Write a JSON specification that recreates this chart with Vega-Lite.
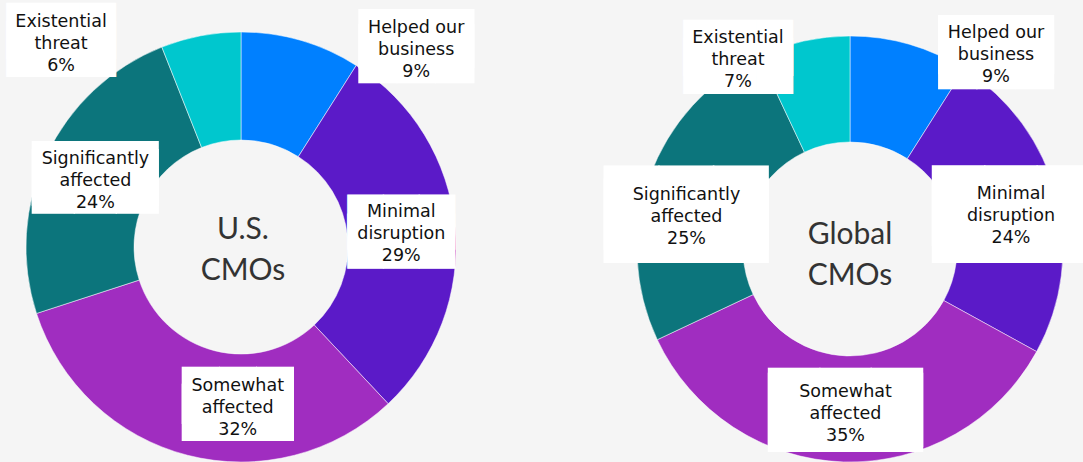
{
  "$schema": "https://vega.github.io/schema/vega-lite/v6.json",
  "background": "#f5f5f5",
  "padding": 0,
  "spacing": 0,
  "config": {"view": {"stroke": null}},
  "data": {"values": [
    {"region": "US", "cat": "Helped our business", "label": "Helped our\nbusiness\n9%", "value": 9, "rank": 1},
    {"region": "US", "cat": "Minimal disruption", "label": "Minimal\ndisruption\n29%", "value": 29, "rank": 2},
    {"region": "US", "cat": "Somewhat affected", "label": "Somewhat\naffected\n32%", "value": 32, "rank": 3},
    {"region": "US", "cat": "Significantly affected", "label": "Significantly\naffected\n24%", "value": 24, "rank": 4},
    {"region": "US", "cat": "Existential threat", "label": "Existential\nthreat\n6%", "value": 6, "rank": 5},
    {"region": "Global", "cat": "Helped our business", "label": "Helped our\nbusiness\n9%", "value": 9, "rank": 1},
    {"region": "Global", "cat": "Minimal disruption", "label": "Minimal\ndisruption\n24%", "value": 24, "rank": 2},
    {"region": "Global", "cat": "Somewhat affected", "label": "Somewhat\naffected\n35%", "value": 35, "rank": 3},
    {"region": "Global", "cat": "Significantly affected", "label": "Significantly\naffected\n25%", "value": 25, "rank": 4},
    {"region": "Global", "cat": "Existential threat", "label": "Existential\nthreat\n7%", "value": 7, "rank": 5}
  ]},
  "hconcat": [
    {
      "width": 482, "height": 462,
      "transform": [{"filter": "datum.region === 'US'"}],
      "layer": [
        {"mark": {"type": "arc", "innerRadius": 107, "radius": 215, "yOffset": 16, "stroke": "#ffffff", "strokeWidth": 0.5},
         "encoding": {
           "theta": {"field": "value", "type": "quantitative", "stack": true},
           "order": {"field": "rank", "type": "quantitative"},
           "color": {"field": "cat", "type": "nominal", "legend": null,
             "scale": {"domain": ["Helped our business", "Minimal disruption", "Somewhat affected", "Significantly affected", "Existential threat"],
                       "range": ["#0080ff", "#5b1ac8", "#a02dc0", "#0c757c", "#00c7ce"]}}}},
        {"mark": {"type": "text", "clip": true, "radius": 162, "dx": 130, "dy": -34.2, "font": "DejaVu Sans", "fontSize": 49.9, "lineHeight": 14.6, "lineBreak": "\n", "color": "#ffffff"},
         "encoding": {"theta": {"field": "value", "type": "quantitative", "stack": true}, "order": {"field": "rank", "type": "quantitative"},
           "text": {"condition": {"test": "datum.rank === 1", "value": "███\n███"}, "value": ""}}},
        {"mark": {"type": "text", "clip": true, "radius": 162, "dx": -1, "dy": 8.2, "font": "DejaVu Sans", "fontSize": 46.5, "lineHeight": 18.7, "lineBreak": "\n", "color": "#ffffff"},
         "encoding": {"theta": {"field": "value", "type": "quantitative", "stack": true}, "order": {"field": "rank", "type": "quantitative"},
           "text": {"condition": {"test": "datum.rank === 2", "value": "███\n███"}, "value": ""}}},
        {"mark": {"type": "text", "clip": true, "radius": 162, "dx": 37, "dy": 10.2, "font": "DejaVu Sans", "fontSize": 48.2, "lineHeight": 16.6, "lineBreak": "\n", "color": "#ffffff"},
         "encoding": {"theta": {"field": "value", "type": "quantitative", "stack": true}, "order": {"field": "rank", "type": "quantitative"},
           "text": {"condition": {"test": "datum.rank === 3", "value": "███\n███"}, "value": ""}}},
        {"mark": {"type": "text", "clip": true, "radius": 162, "dx": 1, "dy": 14.2, "font": "DejaVu Sans", "fontSize": 54.6, "lineHeight": 8, "lineBreak": "\n", "color": "#ffffff"},
         "encoding": {"theta": {"field": "value", "type": "quantitative", "stack": true}, "order": {"field": "rank", "type": "quantitative"},
           "text": {"condition": {"test": "datum.rank === 4", "value": "███\n███"}, "value": ""}}},
        {"mark": {"type": "text", "clip": true, "radius": 162, "dx": -149.6, "dy": -38.4, "font": "DejaVu Sans", "fontSize": 47.3, "lineHeight": 17.7, "lineBreak": "\n", "color": "#ffffff"},
         "encoding": {"theta": {"field": "value", "type": "quantitative", "stack": true}, "order": {"field": "rank", "type": "quantitative"},
           "text": {"condition": {"test": "datum.rank === 5", "value": "███\n███"}, "value": ""}}},
        {"mark": {"type": "text", "clip": true, "radius": 162, "dx": 130, "dy": -47.5, "font": "DejaVu Sans", "fontSize": 17.5, "lineHeight": 22, "lineBreak": "\n", "color": "#111111"},
         "encoding": {"theta": {"field": "value", "type": "quantitative", "stack": true}, "order": {"field": "rank", "type": "quantitative"},
           "text": {"condition": {"test": "datum.rank === 1", "field": "label"}, "value": ""}}},
        {"mark": {"type": "text", "clip": true, "radius": 162, "dx": -1, "dy": -3.5, "font": "DejaVu Sans", "fontSize": 17.5, "lineHeight": 22, "lineBreak": "\n", "color": "#111111"},
         "encoding": {"theta": {"field": "value", "type": "quantitative", "stack": true}, "order": {"field": "rank", "type": "quantitative"},
           "text": {"condition": {"test": "datum.rank === 2", "field": "label"}, "value": ""}}},
        {"mark": {"type": "text", "clip": true, "radius": 162, "dx": 37, "dy": -2.4, "font": "DejaVu Sans", "fontSize": 17.5, "lineHeight": 22, "lineBreak": "\n", "color": "#111111"},
         "encoding": {"theta": {"field": "value", "type": "quantitative", "stack": true}, "order": {"field": "rank", "type": "quantitative"},
           "text": {"condition": {"test": "datum.rank === 3", "field": "label"}, "value": ""}}},
        {"mark": {"type": "text", "clip": true, "radius": 162, "dx": 1, "dy": -3, "font": "DejaVu Sans", "fontSize": 17.5, "lineHeight": 22, "lineBreak": "\n", "color": "#111111"},
         "encoding": {"theta": {"field": "value", "type": "quantitative", "stack": true}, "order": {"field": "rank", "type": "quantitative"},
           "text": {"condition": {"test": "datum.rank === 4", "field": "label"}, "value": ""}}},
        {"mark": {"type": "text", "clip": true, "radius": 162, "dx": -149.6, "dy": -50, "font": "DejaVu Sans", "fontSize": 17.5, "lineHeight": 22, "lineBreak": "\n", "color": "#111111"},
         "encoding": {"theta": {"field": "value", "type": "quantitative", "stack": true}, "order": {"field": "rank", "type": "quantitative"},
           "text": {"condition": {"test": "datum.rank === 5", "field": "label"}, "value": ""}}},
        {"data": {"values": [{"center": "U.S.\nCMOs"}]},
         "mark": {"type": "text", "dx": 2, "dy": -1.5, "font": "Lato", "fontSize": 30, "lineHeight": 41, "lineBreak": "\n", "color": "#333333"},
         "encoding": {"text": {"field": "center", "type": "nominal"}}}
      ]
    },
    {
      "width": 601, "height": 462,
      "transform": [{"filter": "datum.region === 'Global'"}],
      "layer": [
        {"mark": {"type": "arc", "innerRadius": 107, "radius": 213, "xOffset": 67.5, "yOffset": 18, "stroke": "#ffffff", "strokeWidth": 0.5},
         "encoding": {
           "theta": {"field": "value", "type": "quantitative", "stack": true},
           "order": {"field": "rank", "type": "quantitative"},
           "color": {"field": "cat", "type": "nominal", "legend": null,
             "scale": {"domain": ["Helped our business", "Minimal disruption", "Somewhat affected", "Significantly affected", "Existential threat"],
                       "range": ["#0080ff", "#5b1ac8", "#a02dc0", "#0c757c", "#00c7ce"]}}}},
        {"mark": {"type": "text", "clip": true, "radius": 162, "dx": 168.3, "dy": -28.2, "font": "DejaVu Sans", "fontSize": 49.9, "lineHeight": 14.6, "lineBreak": "\n", "color": "#ffffff"},
         "encoding": {"theta": {"field": "value", "type": "quantitative", "stack": true}, "order": {"field": "rank", "type": "quantitative"},
           "text": {"condition": {"test": "datum.rank === 1", "value": "███\n███"}, "value": ""}}},
        {"mark": {"type": "text", "clip": true, "radius": 162, "dx": 71.6, "dy": 18.2, "font": "DejaVu Sans", "fontSize": 68, "lineHeight": 17.1, "lineBreak": "\n", "color": "#ffffff"},
         "encoding": {"theta": {"field": "value", "type": "quantitative", "stack": true}, "order": {"field": "rank", "type": "quantitative"},
           "text": {"condition": {"test": "datum.rank === 2", "value": "███\n███"}, "value": ""}}},
        {"mark": {"type": "text", "clip": true, "radius": 162, "dx": 68.1, "dy": 17.1, "font": "DejaVu Sans", "fontSize": 66.7, "lineHeight": 4.7, "lineBreak": "\n", "color": "#ffffff"},
         "encoding": {"theta": {"field": "value", "type": "quantitative", "stack": true}, "order": {"field": "rank", "type": "quantitative"},
           "text": {"condition": {"test": "datum.rank === 3", "value": "███\n███"}, "value": ""}}},
        {"mark": {"type": "text", "clip": true, "radius": 162, "dx": 56.4, "dy": 34.7, "font": "DejaVu Sans", "fontSize": 71, "lineHeight": 13.5, "lineBreak": "\n", "color": "#ffffff"},
         "encoding": {"theta": {"field": "value", "type": "quantitative", "stack": true}, "order": {"field": "rank", "type": "quantitative"},
           "text": {"condition": {"test": "datum.rank === 4", "value": "███\n███"}, "value": ""}}},
        {"mark": {"type": "text", "clip": true, "radius": 162, "dx": -9.2, "dy": -23.4, "font": "DejaVu Sans", "fontSize": 47.3, "lineHeight": 18.7, "lineBreak": "\n", "color": "#ffffff"},
         "encoding": {"theta": {"field": "value", "type": "quantitative", "stack": true}, "order": {"field": "rank", "type": "quantitative"},
           "text": {"condition": {"test": "datum.rank === 5", "value": "███\n███"}, "value": ""}}},
        {"mark": {"type": "text", "clip": true, "radius": 162, "dx": 168.3, "dy": -42, "font": "DejaVu Sans", "fontSize": 17.5, "lineHeight": 22, "lineBreak": "\n", "color": "#111111"},
         "encoding": {"theta": {"field": "value", "type": "quantitative", "stack": true}, "order": {"field": "rank", "type": "quantitative"},
           "text": {"condition": {"test": "datum.rank === 1", "field": "label"}, "value": ""}}},
        {"mark": {"type": "text", "clip": true, "radius": 162, "dx": 71.6, "dy": 3.5, "font": "DejaVu Sans", "fontSize": 17.5, "lineHeight": 22, "lineBreak": "\n", "color": "#111111"},
         "encoding": {"theta": {"field": "value", "type": "quantitative", "stack": true}, "order": {"field": "rank", "type": "quantitative"},
           "text": {"condition": {"test": "datum.rank === 2", "field": "label"}, "value": ""}}},
        {"mark": {"type": "text", "clip": true, "radius": 162, "dx": 68.1, "dy": -0.5, "font": "DejaVu Sans", "fontSize": 17.5, "lineHeight": 22, "lineBreak": "\n", "color": "#111111"},
         "encoding": {"theta": {"field": "value", "type": "quantitative", "stack": true}, "order": {"field": "rank", "type": "quantitative"},
           "text": {"condition": {"test": "datum.rank === 3", "field": "label"}, "value": ""}}},
        {"mark": {"type": "text", "clip": true, "radius": 162, "dx": 56.4, "dy": 19, "font": "DejaVu Sans", "fontSize": 17.5, "lineHeight": 22, "lineBreak": "\n", "color": "#111111"},
         "encoding": {"theta": {"field": "value", "type": "quantitative", "stack": true}, "order": {"field": "rank", "type": "quantitative"},
           "text": {"condition": {"test": "datum.rank === 4", "field": "label"}, "value": ""}}},
        {"mark": {"type": "text", "clip": true, "radius": 162, "dx": -9.2, "dy": -35, "font": "DejaVu Sans", "fontSize": 17.5, "lineHeight": 22, "lineBreak": "\n", "color": "#111111"},
         "encoding": {"theta": {"field": "value", "type": "quantitative", "stack": true}, "order": {"field": "rank", "type": "quantitative"},
           "text": {"condition": {"test": "datum.rank === 5", "field": "label"}, "value": ""}}},
        {"data": {"values": [{"center": "Global\nCMOs"}]},
         "mark": {"type": "text", "dx": 67.5, "dy": 4, "font": "Lato", "fontSize": 30, "lineHeight": 41, "lineBreak": "\n", "color": "#333333"},
         "encoding": {"text": {"field": "center", "type": "nominal"}}}
      ]
    }
  ]
}
